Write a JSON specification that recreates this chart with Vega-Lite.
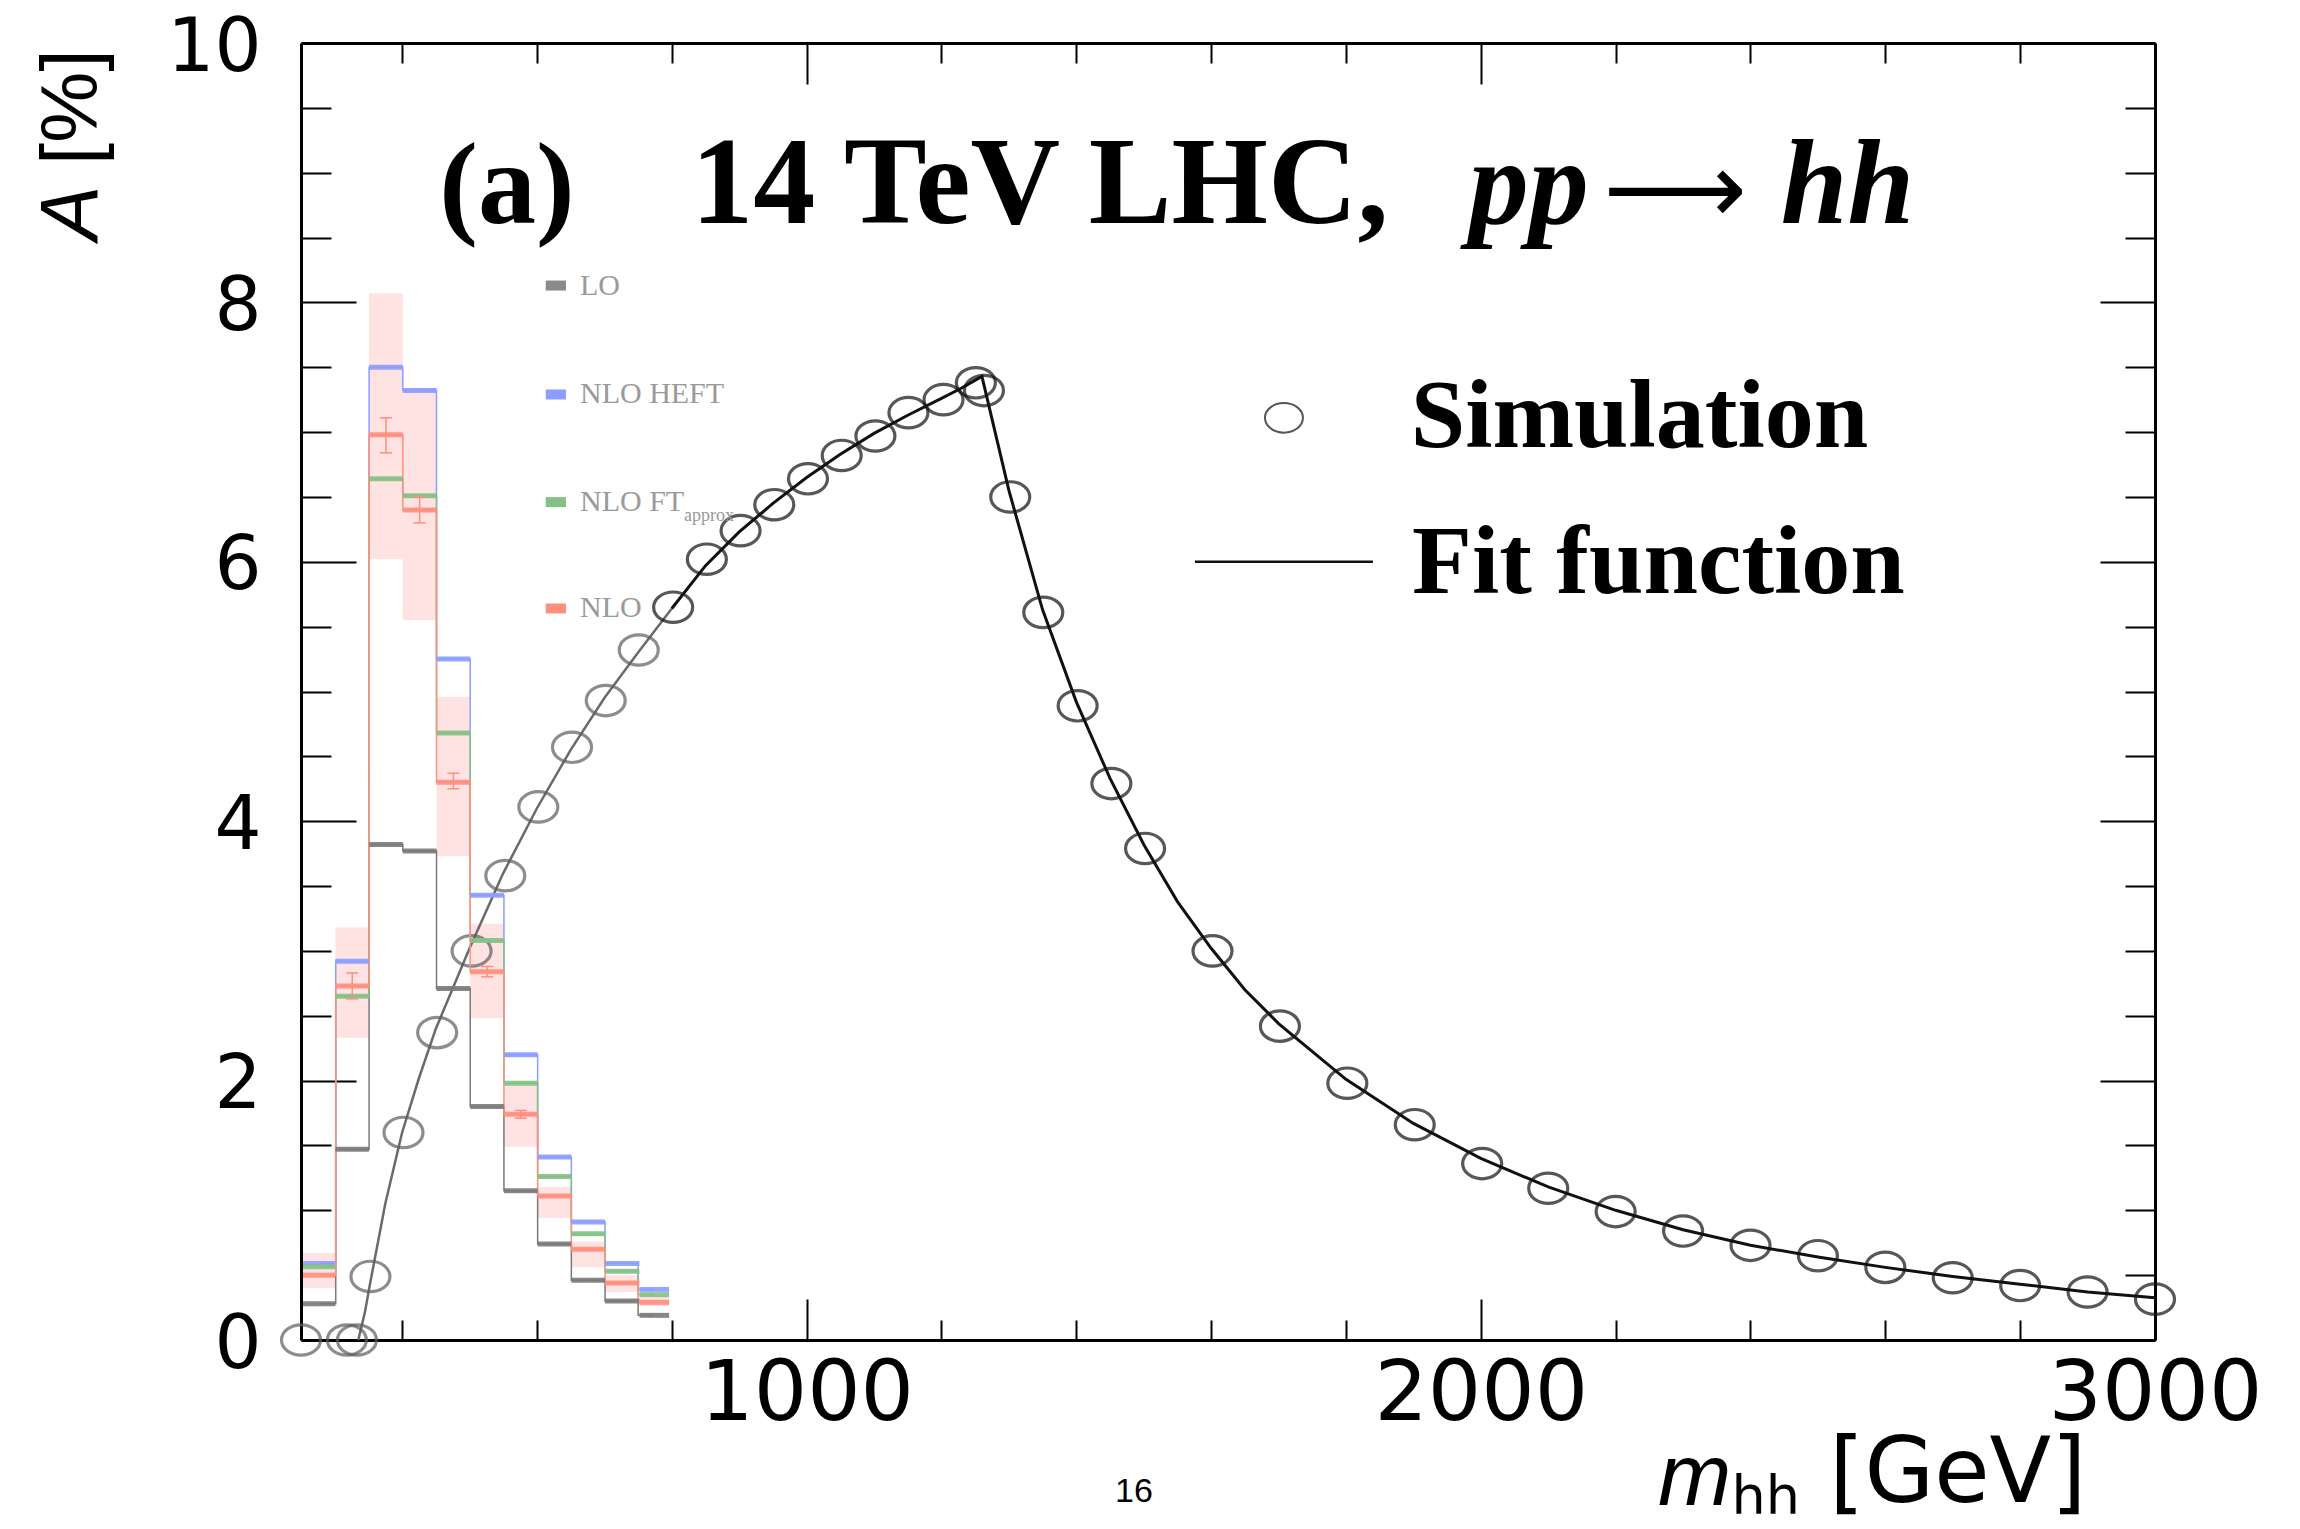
{
  "$schema": "https://vega.github.io/schema/vega-lite/v6.json",
  "width": 1854,
  "height": 1297,
  "autosize": {"type": "none"},
  "padding": {"left": 301, "top": 43, "right": 145, "bottom": 189},
  "background": "white",
  "config": {
    "view": {"stroke": null},
    "axis": {"grid": false, "domainColor": "#000000", "tickColor": "#000000", "labelColor": "#000000", "domainWidth": 3, "tickWidth": 2, "title": null}
  },
  "resolve": {"axis": {"x": "independent", "y": "independent"}},
  "datasets": {
    "hist": [
      {"lo": 253, "hi": 301, "mid": 277, "LO": 0.28, "HEFT": 0.59, "FT": 0.565, "NLO": 0.50, "blo": 0.40, "bhi": 0.67},
      {"lo": 301, "hi": 351, "mid": 326, "LO": 1.47, "HEFT": 2.92, "FT": 2.65, "NLO": 2.73, "blo": 2.33, "bhi": 3.18},
      {"lo": 351, "hi": 401, "mid": 376, "LO": 3.82, "HEFT": 7.50, "FT": 6.64, "NLO": 6.98, "blo": 6.02, "bhi": 8.07},
      {"lo": 401, "hi": 451, "mid": 426, "LO": 3.77, "HEFT": 7.32, "FT": 6.51, "NLO": 6.40, "blo": 5.55, "bhi": 7.34},
      {"lo": 451, "hi": 501, "mid": 476, "LO": 2.71, "HEFT": 5.25, "FT": 4.68, "NLO": 4.30, "blo": 3.73, "bhi": 4.96},
      {"lo": 501, "hi": 551, "mid": 526, "LO": 1.80, "HEFT": 3.43, "FT": 3.08, "NLO": 2.84, "blo": 2.48, "bhi": 3.21},
      {"lo": 551, "hi": 601, "mid": 576, "LO": 1.15, "HEFT": 2.20, "FT": 1.98, "NLO": 1.74, "blo": 1.49, "bhi": 1.97},
      {"lo": 601, "hi": 651, "mid": 626, "LO": 0.74, "HEFT": 1.41, "FT": 1.26, "NLO": 1.11, "blo": 0.94, "bhi": 1.18},
      {"lo": 651, "hi": 701, "mid": 676, "LO": 0.46, "HEFT": 0.91, "FT": 0.82, "NLO": 0.70, "blo": 0.56, "bhi": 0.76},
      {"lo": 701, "hi": 752, "mid": 726, "LO": 0.30, "HEFT": 0.59, "FT": 0.53, "NLO": 0.44, "blo": 0.37, "bhi": 0.50},
      {"lo": 752, "hi": 796, "mid": 774, "LO": 0.19, "HEFT": 0.39, "FT": 0.35, "NLO": 0.29, "blo": 0.26, "bhi": 0.34}
    ],
    "err": [
      {"mid": 326, "elo": 2.63, "ehi": 2.83},
      {"mid": 376, "elo": 6.84, "ehi": 7.11},
      {"mid": 426, "elo": 6.30, "ehi": 6.50},
      {"mid": 476, "elo": 4.25, "ehi": 4.37},
      {"mid": 526, "elo": 2.80, "ehi": 2.88},
      {"mid": 576, "elo": 1.71, "ehi": 1.77}
    ],
    "sim": [
      {"m": 250, "A": 0}, {"m": 318, "A": 0}, {"m": 333, "A": 0}, {"m": 353, "A": 0.49},
      {"m": 402, "A": 1.60}, {"m": 452, "A": 2.37}, {"m": 503, "A": 3.00}, {"m": 553, "A": 3.58},
      {"m": 602, "A": 4.11}, {"m": 652, "A": 4.57}, {"m": 702, "A": 4.93}, {"m": 751, "A": 5.32},
      {"m": 802, "A": 5.65}, {"m": 852, "A": 6.02}, {"m": 902, "A": 6.24}, {"m": 952, "A": 6.44},
      {"m": 1002, "A": 6.64}, {"m": 1052, "A": 6.82}, {"m": 1102, "A": 6.97}, {"m": 1151, "A": 7.15},
      {"m": 1203, "A": 7.25}, {"m": 1251, "A": 7.38}, {"m": 1263, "A": 7.32}, {"m": 1302, "A": 6.50},
      {"m": 1351, "A": 5.61}, {"m": 1402, "A": 4.89}, {"m": 1452, "A": 4.29}, {"m": 1502, "A": 3.79},
      {"m": 1602, "A": 3.00}, {"m": 1702, "A": 2.42}, {"m": 1802, "A": 1.98}, {"m": 1902, "A": 1.66},
      {"m": 2002, "A": 1.36}, {"m": 2100, "A": 1.17}, {"m": 2200, "A": 0.99}, {"m": 2300, "A": 0.84},
      {"m": 2400, "A": 0.73}, {"m": 2500, "A": 0.65}, {"m": 2600, "A": 0.56}, {"m": 2700, "A": 0.48},
      {"m": 2800, "A": 0.42}, {"m": 2900, "A": 0.37}, {"m": 3000, "A": 0.315}
    ],
    "fit": [
      {"m": 335, "A": 0}, {"m": 345, "A": 0.22}, {"m": 353, "A": 0.45}, {"m": 375, "A": 1.05},
      {"m": 400, "A": 1.60}, {"m": 425, "A": 2.02}, {"m": 450, "A": 2.40}, {"m": 500, "A": 3.02},
      {"m": 550, "A": 3.60}, {"m": 600, "A": 4.10}, {"m": 650, "A": 4.55}, {"m": 700, "A": 4.95},
      {"m": 750, "A": 5.30}, {"m": 800, "A": 5.64}, {"m": 850, "A": 5.97}, {"m": 900, "A": 6.23},
      {"m": 950, "A": 6.45}, {"m": 1000, "A": 6.65}, {"m": 1050, "A": 6.83}, {"m": 1100, "A": 6.99},
      {"m": 1150, "A": 7.13}, {"m": 1200, "A": 7.26}, {"m": 1230, "A": 7.34}, {"m": 1260, "A": 7.43},
      {"m": 1300, "A": 6.55}, {"m": 1350, "A": 5.63}, {"m": 1400, "A": 4.92}, {"m": 1450, "A": 4.33},
      {"m": 1500, "A": 3.82}, {"m": 1550, "A": 3.38}, {"m": 1600, "A": 3.02}, {"m": 1650, "A": 2.70},
      {"m": 1700, "A": 2.44}, {"m": 1800, "A": 2.01}, {"m": 1900, "A": 1.67}, {"m": 2000, "A": 1.40},
      {"m": 2100, "A": 1.18}, {"m": 2200, "A": 1.00}, {"m": 2300, "A": 0.85}, {"m": 2400, "A": 0.73},
      {"m": 2500, "A": 0.64}, {"m": 2600, "A": 0.56}, {"m": 2700, "A": 0.49}, {"m": 2800, "A": 0.43},
      {"m": 2900, "A": 0.37}, {"m": 3000, "A": 0.325}
    ]
  },
  "layer": [
    {
      "data": {"name": "hist"},
      "mark": {"type": "rect", "color": "#ffe2e2"},
      "encoding": {
        "x": {"field": "lo", "type": "quantitative", "scale": {"domain": [250, 3000], "nice": false, "zero": false},
              "axis": {"orient": "bottom", "values": [1000, 2000, 3000], "format": "d", "labelLimit": 0, "ticks": false, "domain": true, "labelFont": "DejaVu Sans", "labelFontSize": 84, "labelPadding": 13, "labelFlush": false, "labelOverlap": false}},
        "x2": {"field": "hi"},
        "y": {"field": "blo", "type": "quantitative", "scale": {"domain": [0, 10], "nice": false, "zero": false},
              "axis": {"orient": "left", "values": [0, 2, 4, 6, 8, 10], "format": "d", "labelLimit": 0, "ticks": false, "domain": true, "labelFont": "DejaVu Sans", "labelFontSize": 74, "labelBaseline": "alphabetic", "labelOffset": 27, "labelPadding": 40, "labelFlush": false, "labelOverlap": false}},
        "y2": {"field": "bhi"}
      }
    },
    {
      "data": {"name": "fit"},
      "transform": [{"filter": "datum.m <= 800"}],
      "mark": {"type": "line", "color": "#6a6a6a", "strokeWidth": 2.5},
      "encoding": {
        "x": {"field": "m", "type": "quantitative", "scale": {"domain": [250, 3000], "nice": false, "zero": false},
              "axis": {"orient": "top", "values": [1000, 2000, 3000], "tickSize": -41, "labels": false, "domain": true}},
        "y": {"field": "A", "type": "quantitative", "scale": {"domain": [0, 10], "nice": false, "zero": false},
              "axis": {"orient": "right", "values": [0, 2, 4, 6, 8, 10], "tickSize": -55, "labels": false, "domain": true}}
      }
    },
    {
      "data": {"name": "fit"},
      "transform": [{"filter": "datum.m >= 800"}],
      "mark": {"type": "line", "color": "#111111", "strokeWidth": 3},
      "encoding": {
        "x": {"field": "m", "type": "quantitative", "scale": {"domain": [250, 3000], "nice": false, "zero": false},
              "axis": {"orient": "bottom", "values": [1000, 2000, 3000], "tickSize": -41, "labels": false, "domain": false}},
        "y": {"field": "A", "type": "quantitative", "scale": {"domain": [0, 10], "nice": false, "zero": false},
              "axis": {"orient": "left", "values": [0, 2, 4, 6, 8, 10], "tickSize": -55, "labels": false, "domain": false}}
      }
    },
    {
      "data": {"name": "sim"},
      "mark": {"type": "point", "filled": false, "strokeWidth": 3.2, "size": 1521, "shape": "M-1,0A1,0.78,0,1,1,1,0A1,0.78,0,1,1,-1,0Z"},
      "encoding": {
        "x": {"field": "m", "type": "quantitative", "scale": {"domain": [250, 3000], "nice": false, "zero": false},
              "axis": {"orient": "bottom", "values": [400, 600, 800, 1200, 1400, 1600, 1800, 2200, 2400, 2600, 2800], "tickSize": -20, "labels": false, "domain": false}},
        "y": {"field": "A", "type": "quantitative", "scale": {"domain": [0, 10], "nice": false, "zero": false},
              "axis": {"orient": "left", "values": [0.5, 1, 1.5, 2.5, 3, 3.5, 4.5, 5, 5.5, 6.5, 7, 7.5, 8.5, 9, 9.5], "tickSize": -30, "labels": false, "domain": false}},
        "color": {"condition": {"test": "datum.m < 790", "value": "#5e5e5e"}, "value": "#111111"}
      }
    },
    {
      "data": {"name": "hist"},
      "transform": [{"fold": ["LO", "HEFT", "FT", "NLO"], "as": ["series", "value"]}],
      "mark": {"type": "line", "interpolate": "step", "strokeWidth": 1.5},
      "encoding": {
        "x": {"field": "mid", "type": "quantitative", "scale": {"domain": [250, 3000], "nice": false, "zero": false},
              "axis": {"orient": "top", "values": [400, 600, 800, 1200, 1400, 1600, 1800, 2200, 2400, 2600, 2800], "tickSize": -20, "labels": false, "domain": false}},
        "y": {"field": "value", "type": "quantitative", "scale": {"domain": [0, 10], "nice": false, "zero": false},
              "axis": {"orient": "right", "values": [0.5, 1, 1.5, 2.5, 3, 3.5, 4.5, 5, 5.5, 6.5, 7, 7.5, 8.5, 9, 9.5], "tickSize": -30, "labels": false, "domain": false}},
        "color": {"field": "series", "type": "nominal", "legend": null,
                  "scale": {"domain": ["LO", "HEFT", "FT", "NLO"], "range": ["#7a7a7a", "#8b9dff", "#84c184", "#ff8f7e"]}}
      }
    },
    {
      "data": {"name": "hist"},
      "transform": [{"fold": ["LO", "HEFT", "FT", "NLO"], "as": ["series", "value"]}],
      "mark": {"type": "rule", "strokeWidth": 5, "opacity": 0.9},
      "encoding": {
        "x": {"field": "lo", "type": "quantitative", "scale": {"domain": [250, 3000], "nice": false, "zero": false}, "axis": null},
        "x2": {"field": "hi"},
        "y": {"field": "value", "type": "quantitative", "scale": {"domain": [0, 10], "nice": false, "zero": false}, "axis": null},
        "color": {"field": "series", "type": "nominal", "legend": null,
                  "scale": {"domain": ["LO", "HEFT", "FT", "NLO"], "range": ["#7a7a7a", "#8b9dff", "#84c184", "#ff8f7e"]}}
      }
    },
    {
      "data": {"name": "err"},
      "mark": {"type": "rule", "color": "#ff8f7e", "strokeWidth": 1.5},
      "encoding": {
        "x": {"field": "mid", "type": "quantitative", "scale": {"domain": [250, 3000], "nice": false, "zero": false}, "axis": null},
        "y": {"field": "elo", "type": "quantitative", "scale": {"domain": [0, 10], "nice": false, "zero": false}, "axis": null},
        "y2": {"field": "ehi"}
      }
    },
    {
      "data": {"name": "err"},
      "transform": [{"fold": ["elo", "ehi"], "as": ["k", "v"]}],
      "mark": {"type": "tick", "orient": "horizontal", "color": "#ff8f7e", "size": 12, "thickness": 1.5, "opacity": 1},
      "encoding": {
        "x": {"field": "mid", "type": "quantitative", "scale": {"domain": [250, 3000], "nice": false, "zero": false}, "axis": null},
        "y": {"field": "v", "type": "quantitative", "scale": {"domain": [0, 10], "nice": false, "zero": false}, "axis": null}
      }
    },
    {
      "data": {"values": [{"s": "LO"}]},
      "mark": {"type": "rule", "color": "#8a8a8a", "strokeWidth": 10},
      "encoding": {
        "x": {"datum": 613, "type": "quantitative", "scale": {"domain": [250, 3000], "nice": false, "zero": false}, "axis": null},
        "x2": {"datum": 643},
        "y": {"datum": 8.13, "type": "quantitative", "scale": {"domain": [0, 10], "nice": false, "zero": false}, "axis": null}
      }
    },
    {
      "data": {"values": [{"s": "HEFT"}]},
      "mark": {"type": "rule", "color": "#8b9dff", "strokeWidth": 10},
      "encoding": {
        "x": {"datum": 613, "type": "quantitative", "scale": {"domain": [250, 3000], "nice": false, "zero": false}, "axis": null},
        "x2": {"datum": 643},
        "y": {"datum": 7.29, "type": "quantitative", "scale": {"domain": [0, 10], "nice": false, "zero": false}, "axis": null}
      }
    },
    {
      "data": {"values": [{"s": "FT"}]},
      "mark": {"type": "rule", "color": "#84c184", "strokeWidth": 10},
      "encoding": {
        "x": {"datum": 613, "type": "quantitative", "scale": {"domain": [250, 3000], "nice": false, "zero": false}, "axis": null},
        "x2": {"datum": 643},
        "y": {"datum": 6.46, "type": "quantitative", "scale": {"domain": [0, 10], "nice": false, "zero": false}, "axis": null}
      }
    },
    {
      "data": {"values": [{"s": "NLO"}]},
      "mark": {"type": "rule", "color": "#ff8f7e", "strokeWidth": 10},
      "encoding": {
        "x": {"datum": 613, "type": "quantitative", "scale": {"domain": [250, 3000], "nice": false, "zero": false}, "axis": null},
        "x2": {"datum": 643},
        "y": {"datum": 5.64, "type": "quantitative", "scale": {"domain": [0, 10], "nice": false, "zero": false}, "axis": null}
      }
    },
    {
      "data": {"values": [{"t": "LO"}]},
      "mark": {"type": "text", "font": "Liberation Serif", "fontSize": 30, "color": "#9a9a9a", "align": "left", "baseline": "middle"},
      "encoding": {
        "text": {"field": "t"},
        "x": {"datum": 663.8, "type": "quantitative", "scale": {"domain": [250, 3000], "nice": false, "zero": false}, "axis": null},
        "y": {"datum": 8.13, "type": "quantitative", "scale": {"domain": [0, 10], "nice": false, "zero": false}, "axis": null}
      }
    },
    {
      "data": {"values": [{"t": "NLO HEFT"}]},
      "mark": {"type": "text", "font": "Liberation Serif", "fontSize": 30, "color": "#9a9a9a", "align": "left", "baseline": "middle"},
      "encoding": {
        "text": {"field": "t"},
        "x": {"datum": 663.8, "type": "quantitative", "scale": {"domain": [250, 3000], "nice": false, "zero": false}, "axis": null},
        "y": {"datum": 7.29, "type": "quantitative", "scale": {"domain": [0, 10], "nice": false, "zero": false}, "axis": null}
      }
    },
    {
      "data": {"values": [{"t": "NLO FT"}]},
      "mark": {"type": "text", "font": "Liberation Serif", "fontSize": 30, "color": "#9a9a9a", "align": "left", "baseline": "middle"},
      "encoding": {
        "text": {"field": "t"},
        "x": {"datum": 663.8, "type": "quantitative", "scale": {"domain": [250, 3000], "nice": false, "zero": false}, "axis": null},
        "y": {"datum": 6.46, "type": "quantitative", "scale": {"domain": [0, 10], "nice": false, "zero": false}, "axis": null}
      }
    },
    {
      "data": {"values": [{"t": "approx"}]},
      "mark": {"type": "text", "font": "Liberation Serif", "fontSize": 18, "color": "#9a9a9a", "align": "left", "baseline": "middle"},
      "encoding": {
        "text": {"field": "t"},
        "x": {"datum": 818, "type": "quantitative", "scale": {"domain": [250, 3000], "nice": false, "zero": false}, "axis": null},
        "y": {"datum": 6.35, "type": "quantitative", "scale": {"domain": [0, 10], "nice": false, "zero": false}, "axis": null}
      }
    },
    {
      "data": {"values": [{"t": "NLO"}]},
      "mark": {"type": "text", "font": "Liberation Serif", "fontSize": 30, "color": "#9a9a9a", "align": "left", "baseline": "middle"},
      "encoding": {
        "text": {"field": "t"},
        "x": {"datum": 663.8, "type": "quantitative", "scale": {"domain": [250, 3000], "nice": false, "zero": false}, "axis": null},
        "y": {"datum": 5.64, "type": "quantitative", "scale": {"domain": [0, 10], "nice": false, "zero": false}, "axis": null}
      }
    },
    {
      "data": {"values": [{"s": "Simulation"}]},
      "mark": {"type": "point", "filled": false, "strokeWidth": 2, "size": 1444, "color": "#111111", "shape": "M-1,0A1,0.78,0,1,1,1,0A1,0.78,0,1,1,-1,0Z"},
      "encoding": {
        "x": {"datum": 1708, "type": "quantitative", "scale": {"domain": [250, 3000], "nice": false, "zero": false}, "axis": null},
        "y": {"datum": 7.11, "type": "quantitative", "scale": {"domain": [0, 10], "nice": false, "zero": false}, "axis": null}
      }
    },
    {
      "data": {"values": [{"s": "Fit function"}]},
      "mark": {"type": "rule", "color": "#111111", "strokeWidth": 2.5},
      "encoding": {
        "x": {"datum": 1576, "type": "quantitative", "scale": {"domain": [250, 3000], "nice": false, "zero": false}, "axis": null},
        "x2": {"datum": 1840},
        "y": {"datum": 6.0, "type": "quantitative", "scale": {"domain": [0, 10], "nice": false, "zero": false}, "axis": null}
      }
    },
    {
      "data": {"values": [{"t": "Simulation"}]},
      "mark": {"type": "text", "font": "Liberation Serif", "fontWeight": "bold", "fontSize": 98, "color": "#000000", "align": "left", "baseline": "alphabetic"},
      "encoding": {
        "text": {"field": "t"},
        "x": {"datum": 1896, "type": "quantitative", "scale": {"domain": [250, 3000], "nice": false, "zero": false}, "axis": null},
        "y": {"datum": 6.885, "type": "quantitative", "scale": {"domain": [0, 10], "nice": false, "zero": false}, "axis": null}
      }
    },
    {
      "data": {"values": [{"t": "Fit function"}]},
      "mark": {"type": "text", "font": "Liberation Serif", "fontWeight": "bold", "fontSize": 98, "color": "#000000", "align": "left", "baseline": "alphabetic"},
      "encoding": {
        "text": {"field": "t"},
        "x": {"datum": 1898, "type": "quantitative", "scale": {"domain": [250, 3000], "nice": false, "zero": false}, "axis": null},
        "y": {"datum": 5.76, "type": "quantitative", "scale": {"domain": [0, 10], "nice": false, "zero": false}, "axis": null}
      }
    },
    {
      "data": {"values": [{"t": "(a)"}]},
      "mark": {"type": "text", "font": "Liberation Serif", "fontWeight": "bold", "fontSize": 116, "color": "#000000", "align": "center", "baseline": "alphabetic"},
      "encoding": {
        "text": {"field": "t"},
        "x": {"datum": 555.5, "type": "quantitative", "scale": {"domain": [250, 3000], "nice": false, "zero": false}, "axis": null},
        "y": {"datum": 8.61, "type": "quantitative", "scale": {"domain": [0, 10], "nice": false, "zero": false}, "axis": null}
      }
    },
    {
      "data": {"values": [{"t": "14 TeV LHC,"}]},
      "mark": {"type": "text", "font": "Liberation Serif", "fontWeight": "bold", "fontSize": 124, "color": "#000000", "align": "center", "baseline": "alphabetic"},
      "encoding": {
        "text": {"field": "t"},
        "x": {"datum": 1346, "type": "quantitative", "scale": {"domain": [250, 3000], "nice": false, "zero": false}, "axis": null},
        "y": {"datum": 8.61, "type": "quantitative", "scale": {"domain": [0, 10], "nice": false, "zero": false}, "axis": null}
      }
    },
    {
      "data": {"values": [{"t": "pp"}]},
      "mark": {"type": "text", "font": "Liberation Serif", "fontWeight": "bold", "fontStyle": "italic", "fontSize": 120, "color": "#000000", "align": "left", "baseline": "alphabetic"},
      "encoding": {
        "text": {"field": "t"},
        "x": {"datum": 1982, "type": "quantitative", "scale": {"domain": [250, 3000], "nice": false, "zero": false}, "axis": null},
        "y": {"datum": 8.61, "type": "quantitative", "scale": {"domain": [0, 10], "nice": false, "zero": false}, "axis": null}
      }
    },
    {
      "data": {"values": [{"t": "⟶"}]},
      "mark": {"type": "text", "font": "DejaVu Sans", "fontSize": 100, "color": "#000000", "align": "center", "baseline": "alphabetic"},
      "encoding": {
        "text": {"field": "t"},
        "x": {"datum": 2288, "type": "quantitative", "scale": {"domain": [250, 3000], "nice": false, "zero": false}, "axis": null},
        "y": {"datum": 8.61, "type": "quantitative", "scale": {"domain": [0, 10], "nice": false, "zero": false}, "axis": null}
      }
    },
    {
      "data": {"values": [{"t": "hh"}]},
      "mark": {"type": "text", "font": "Liberation Serif", "fontWeight": "bold", "fontStyle": "italic", "fontSize": 120, "color": "#000000", "align": "left", "baseline": "alphabetic"},
      "encoding": {
        "text": {"field": "t"},
        "x": {"datum": 2445, "type": "quantitative", "scale": {"domain": [250, 3000], "nice": false, "zero": false}, "axis": null},
        "y": {"datum": 8.61, "type": "quantitative", "scale": {"domain": [0, 10], "nice": false, "zero": false}, "axis": null}
      }
    },
    {
      "data": {"values": [{"t": "m"}]},
      "mark": {"type": "text", "font": "Liberation Sans", "fontStyle": "italic", "fontSize": 88, "color": "#000000", "align": "left", "baseline": "alphabetic"},
      "encoding": {
        "text": {"field": "t"},
        "x": {"datum": 2262.8, "type": "quantitative", "scale": {"domain": [250, 3000], "nice": false, "zero": false}, "axis": null},
        "y": {"datum": -1.272, "type": "quantitative", "scale": {"domain": [0, 10], "nice": false, "zero": false}, "axis": null}
      }
    },
    {
      "data": {"values": [{"t": "hh"}]},
      "mark": {"type": "text", "font": "DejaVu Sans", "fontSize": 54, "color": "#000000", "align": "left", "baseline": "alphabetic"},
      "encoding": {
        "text": {"field": "t"},
        "x": {"datum": 2372, "type": "quantitative", "scale": {"domain": [250, 3000], "nice": false, "zero": false}, "axis": null},
        "y": {"datum": -1.34, "type": "quantitative", "scale": {"domain": [0, 10], "nice": false, "zero": false}, "axis": null}
      }
    },
    {
      "data": {"values": [{"t": "[GeV]"}]},
      "mark": {"type": "text", "font": "DejaVu Sans", "fontSize": 90, "color": "#000000", "align": "left", "baseline": "alphabetic"},
      "encoding": {
        "text": {"field": "t"},
        "x": {"datum": 2517, "type": "quantitative", "scale": {"domain": [250, 3000], "nice": false, "zero": false}, "axis": null},
        "y": {"datum": -1.25, "type": "quantitative", "scale": {"domain": [0, 10], "nice": false, "zero": false}, "axis": null}
      }
    },
    {
      "data": {"values": [{"t": "A"}]},
      "mark": {"type": "text", "font": "Liberation Sans", "fontStyle": "italic", "fontSize": 82, "color": "#000000", "align": "left", "baseline": "alphabetic", "angle": 270},
      "encoding": {
        "text": {"field": "t"},
        "x": {"datum": -52, "type": "quantitative", "scale": {"domain": [250, 3000], "nice": false, "zero": false}, "axis": null},
        "y": {"datum": 8.48, "type": "quantitative", "scale": {"domain": [0, 10], "nice": false, "zero": false}, "axis": null}
      }
    },
    {
      "data": {"values": [{"t": "[%]"}]},
      "mark": {"type": "text", "font": "Liberation Sans", "fontSize": 80, "color": "#000000", "align": "left", "baseline": "alphabetic", "angle": 270},
      "encoding": {
        "text": {"field": "t"},
        "x": {"datum": -52, "type": "quantitative", "scale": {"domain": [250, 3000], "nice": false, "zero": false}, "axis": null},
        "y": {"datum": 9.06, "type": "quantitative", "scale": {"domain": [0, 10], "nice": false, "zero": false}, "axis": null}
      }
    },
    {
      "data": {"values": [{"t": "16"}]},
      "mark": {"type": "text", "font": "Liberation Sans", "fontSize": 34, "color": "#000000", "align": "center", "baseline": "middle"},
      "encoding": {
        "text": {"field": "t"},
        "x": {"datum": 1485.5, "type": "quantitative", "scale": {"domain": [250, 3000], "nice": false, "zero": false}, "axis": null},
        "y": {"datum": -1.17, "type": "quantitative", "scale": {"domain": [0, 10], "nice": false, "zero": false}, "axis": null}
      }
    }
  ]
}
